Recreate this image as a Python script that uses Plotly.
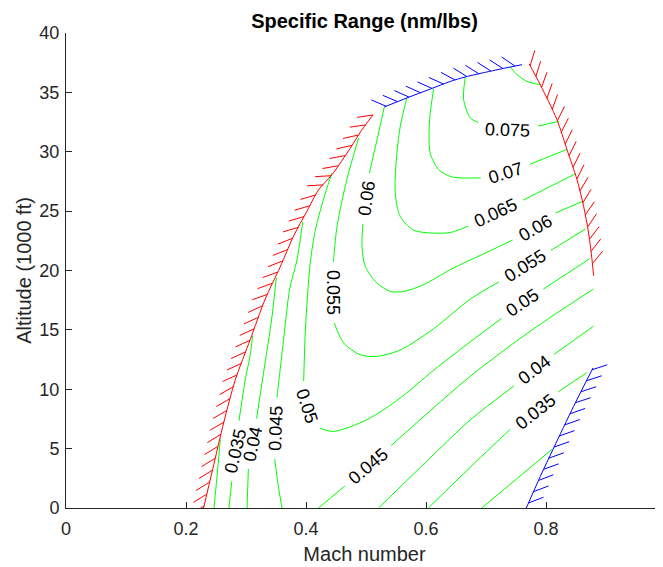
import math
import plotly.graph_objects as go

# ---------------- data (Mach number, altitude in 1000 ft) ----------------
# envelope boundaries
stall_mach = [0.2293, 0.2443, 0.2627, 0.2822, 0.3072, 0.332, 0.357, 0.3793, 0.4017, 0.421, 0.4433, 0.4738, 0.4925, 0.5117]
stall_alt = [0, 3.23, 7.16, 10.8, 14.2, 17.6, 20.3, 22.9, 25.0, 26.8, 28.07, 30.3, 31.8, 33.1]

ceiling_mach = [0.5305, 0.568, 0.6072, 0.6405, 0.6655, 0.7017, 0.7405, 0.76]
ceiling_alt = [33.77, 34.53, 35.28, 35.92, 36.3, 36.72, 37.14, 37.33]

buffet_mach = [0.772, 0.7905, 0.8183, 0.835, 0.8517, 0.8627, 0.871, 0.8767, 0.8793]
buffet_alt = [37.4, 35.64, 32.7, 30.17, 27.65, 25.4, 23.16, 20.9, 19.56]

mmo_mach = [0.8783, 0.846, 0.8127, 0.7905, 0.7672]
mmo_alt = [11.79, 8.56, 5.05, 2.66, 0]

# specific-range contour lines (each connected piece separately)
c030a_mach = [0.2467, 0.2527, 0.2572]
c030a_alt = [0, 3.2, 5.8]
c030b_mach = [0.693, 0.75, 0.81]
c030b_alt = [0, 2.4, 4.95]
c035a_mach = [0.2715, 0.2767, 0.2826, 0.2877, 0.2988, 0.307, 0.311]
c035a_alt = [0, 2.4, 4.8, 7.16, 10.8, 12.9, 14.5]
c035b_mach = [0.604, 0.673, 0.74, 0.7822, 0.818, 0.868]
c035b_alt = [0, 3.4, 6.6, 8.1, 9.7, 11.4]
c040a_mach = [0.3017, 0.304, 0.3112, 0.316, 0.329, 0.343, 0.3505]
c040a_alt = [0, 3.3, 5.4, 7.0, 11.3, 16.0, 19.4]
c040b_mach = [0.521, 0.6127, 0.674, 0.7802, 0.8127, 0.879]
c040b_alt = [0, 4.5, 7.43, 11.6, 12.9, 15.3]
c045a_mach = [0.36, 0.354, 0.348, 0.3505, 0.3517, 0.3627, 0.373, 0.385, 0.3945]
c045a_alt = [0, 1.8, 4.1, 6.7, 9.3, 14.2, 18.5, 20.9, 24.1]
c045b_mach = [0.421, 0.4705, 0.5043, 0.5405, 0.674, 0.774, 0.879]
c045b_alt = [0, 2.1, 3.5, 5.2, 11.1, 14.9, 18.44]
c050_mach = [0.443, 0.428, 0.4155, 0.407, 0.399, 0.396, 0.4012, 0.421, 0.446, 0.5017, 0.557, 0.6127, 0.674, 0.76, 0.873]
c050_alt = [28.2, 25.8, 23.4, 20.6, 15.0, 10.5, 8.56, 6.74, 6.45, 7.44, 9.26, 11.6, 14.0, 17.25, 21.0]
c055_mach = [0.4877, 0.468, 0.4517, 0.446, 0.444, 0.446, 0.4627, 0.4905, 0.518, 0.557, 0.6127, 0.674, 0.765, 0.866]
c055_alt = [31.16, 27.65, 23.7, 20.9, 18.15, 15.7, 13.9, 12.9, 12.77, 13.3, 15.1, 17.6, 20.35, 23.5]
c060_mach = [0.5305, 0.517, 0.507, 0.5003, 0.495, 0.4933, 0.4988, 0.518, 0.5405, 0.5627, 0.596, 0.6405, 0.70, 0.746, 0.7822, 0.8155, 0.86]
c060_alt = [33.77, 30.7, 28.5, 26.06, 24.0, 22.0, 20.35, 18.95, 18.24, 18.24, 18.8, 20.07, 21.5, 22.6, 23.56, 24.84, 25.8]
c065_mach = [0.568, 0.557, 0.5505, 0.5488, 0.557, 0.5793, 0.6072, 0.6405, 0.677, 0.7155, 0.7572, 0.80, 0.8495]
c065_alt = [34.53, 32.1, 29.3, 26.5, 24.55, 23.4, 23.16, 23.2, 23.86, 24.85, 25.8, 26.9, 28.15]
c070_mach = [0.6127, 0.606, 0.607, 0.621, 0.6405, 0.657, 0.696, 0.7328, 0.771, 0.835]
c070_alt = [35.28, 32.7, 29.9, 28.5, 27.92, 27.8, 27.8, 28.25, 28.9, 30.2]
c075_mach = [0.6655, 0.6627, 0.6738, 0.696, 0.7365, 0.782, 0.821]
c075_alt = [36.3, 34.4, 32.84, 32.2, 31.84, 32.1, 32.56]
c080_mach = [0.7405, 0.7517, 0.7683, 0.7905]
c080_alt = [37.14, 36.49, 35.93, 35.64]

# contour labels: contour piece, text, Mach, altitude, text angle
label_contour = ["c035a", "c040a", "c045a", "c050", "c055", "c060", "c045b", "c035b",
                 "c040b", "c050", "c055", "c060", "c065", "c070", "c075"]
label_text = ["0.035", "0.04", "0.045", "0.05", "0.055", "0.06", "0.045", "0.035",
              "0.04", "0.05", "0.055", "0.06", "0.065", "0.07", "0.075"]
label_mach = [0.2826, 0.3112, 0.3505, 0.4012, 0.444, 0.5003, 0.5043, 0.7822,
              0.7802, 0.76, 0.765, 0.7822, 0.7155, 0.7328, 0.7365]
label_alt = [4.8, 5.4, 6.7, 8.56, 18.15, 26.06, 3.5, 8.1,
             11.6, 17.25, 20.35, 23.56, 24.85, 28.25, 31.84]
label_angle = [-77, -78, -88, 72, 90, -82, -40, -38, -37, -34, -32, -30, -25, -17, 2]

x_ticks = [0, 0.2, 0.4, 0.6, 0.8]
x_edge_tick = 1
y_ticks = [0, 5, 10, 15, 20, 25, 30, 35, 40]

contours = {
    "c030a": (c030a_mach, c030a_alt), "c030b": (c030b_mach, c030b_alt),
    "c035a": (c035a_mach, c035a_alt), "c035b": (c035b_mach, c035b_alt),
    "c040a": (c040a_mach, c040a_alt), "c040b": (c040b_mach, c040b_alt),
    "c045a": (c045a_mach, c045a_alt), "c045b": (c045b_mach, c045b_alt),
    "c050": (c050_mach, c050_alt), "c055": (c055_mach, c055_alt),
    "c060": (c060_mach, c060_alt), "c065": (c065_mach, c065_alt),
    "c070": (c070_mach, c070_alt), "c075": (c075_mach, c075_alt),
    "c080": (c080_mach, c080_alt),
}

# ---------------- geometry ----------------
# the page body adds an 8 px margin, so the figure is drawn 8 px smaller
PAGE_OFF = 8
W, H = 663 - PAGE_OFF, 567 - PAGE_OFF
ML, MR, MT, MB = 66 - PAGE_OFF, 0, 33 - PAGE_OFF, 59
XR = [0, 0.995]
YR = [0, 40]
SX = (W - ML - MR) / (XR[1] - XR[0])
SY = (H - MT - MB) / (YR[1] - YR[0])
FONT = "Liberation Sans, Arial, sans-serif"
LABEL_SIZE = 18
AX_COL = "#262626"


def text_width(t, size):
    w = 0
    for ch in t:
        w += 0.278 if ch == "." else 0.556
    return w * size


def cut_at_labels(mach, alt, circles):
    """Remove the parts of a polyline that lie under its labels (pixel circles)."""
    pts = [(m * SX, a * SY) for m, a in zip(mach, alt)]
    cs = [(cm * SX, ca * SY, r) for cm, ca, r in circles]
    xs, ys = [], []
    cur = []

    def flush():
        nonlocal cur
        if len(cur) >= 2:
            xs.extend([p[0] / SX for p in cur] + [None])
            ys.extend([p[1] / SY for p in cur] + [None])
        cur = []

    for (ax, ay), (bx, by) in zip(pts[:-1], pts[1:]):
        dx, dy = bx - ax, by - ay
        qa = dx * dx + dy * dy
        ints = []
        for cx, cy, r in cs:
            fx, fy = ax - cx, ay - cy
            qb = 2 * (fx * dx + fy * dy)
            qc = fx * fx + fy * fy - r * r
            disc = qb * qb - 4 * qa * qc
            if qa == 0 or disc <= 0:
                continue
            s = math.sqrt(disc)
            lo = max((-qb - s) / (2 * qa), 0.0)
            hi = min((-qb + s) / (2 * qa), 1.0)
            if lo < hi:
                ints.append((lo, hi))
        ints.sort()
        merged = []
        for lo, hi in ints:
            if merged and lo <= merged[-1][1]:
                merged[-1] = (merged[-1][0], max(merged[-1][1], hi))
            else:
                merged.append((lo, hi))
        pieces = []
        t = 0.0
        for lo, hi in merged:
            if lo > t:
                pieces.append((t, lo))
            t = max(t, hi)
        if t < 1.0:
            pieces.append((t, 1.0))
        for t0, t1 in pieces:
            p0 = (ax + dx * t0, ay + dy * t0)
            p1 = (ax + dx * t1, ay + dy * t1)
            if t0 == 0.0 and cur:
                cur.append(p1)
            else:
                flush()
                cur = [p0, p1]
        if not pieces or pieces[-1][1] < 1.0:
            flush()
    flush()
    return xs, ys


def hatch_strokes(mach, alt, spacing=12.3, length=16, rot=135):
    """Short hatch strokes rotated from the boundary direction."""
    pts = [(m * SX, a * SY) for m, a in zip(mach, alt)]
    xs, ys = [], []
    seglen = [math.dist(p, q) for p, q in zip(pts[:-1], pts[1:])]
    total = sum(seglen)
    s = 2.0
    while s <= total:
        acc = 0.0
        for i, L in enumerate(seglen):
            if acc + L >= s:
                t = (s - acc) / L
                (ax, ay), (bx, by) = pts[i], pts[i + 1]
                px, py = ax + (bx - ax) * t, ay + (by - ay) * t
                ang = math.atan2(by - ay, bx - ax) + math.radians(rot)
                ex, ey = px + length * math.cos(ang), py + length * math.sin(ang)
                xs += [px / SX, ex / SX, None]
                ys += [py / SY, ey / SY, None]
                break
            acc += L
        s += spacing
    return xs, ys


fig = go.Figure()

# contour lines
for key, (m, a) in contours.items():
    circles = []
    for k, t, lm, la in zip(label_contour, label_text, label_mach, label_alt):
        if k == key:
            circles.append((lm, la, text_width(t, LABEL_SIZE) / 2 + 8))
    xs, ys = cut_at_labels(m, a, circles)
    fig.add_trace(go.Scatter(x=xs, y=ys, mode="lines",
                             line=dict(color="#00ff00", width=1, shape="spline", smoothing=0.8),
                             hoverinfo="skip", showlegend=False))

# envelope boundaries with hatching
for (m, a), col in [((stall_mach, stall_alt), "#ff0000"),
                    ((ceiling_mach, ceiling_alt), "#0000ff"),
                    ((buffet_mach, buffet_alt), "#ff0000"),
                    ((mmo_mach, mmo_alt), "#0000ff")]:
    fig.add_trace(go.Scatter(x=m, y=a, mode="lines",
                             line=dict(color=col, width=1, shape="spline", smoothing=0.8),
                             hoverinfo="skip", showlegend=False))
    hx, hy = hatch_strokes(m, a)
    fig.add_trace(go.Scatter(x=hx, y=hy, mode="lines",
                             line=dict(color=col, width=1),
                             hoverinfo="skip", showlegend=False))

for t, lm, la, ang in zip(label_text, label_mach, label_alt, label_angle):
    fig.add_annotation(x=lm, y=la, text=t, textangle=ang, showarrow=False,
                       xanchor="center", yanchor="middle",
                       font=dict(family=FONT, size=LABEL_SIZE, color="#000000"))

# the "1" tick label that sits on the right edge of the window (beyond the axis range)
fig.add_annotation(x=(x_edge_tick - XR[0]) / (XR[1] - XR[0]), xref="paper", y=0, yref="paper",
                   text=f"{x_edge_tick:g}", showarrow=False, xanchor="center",
                   yanchor="middle", yshift=-19,
                   font=dict(family=FONT, size=18, color=AX_COL))

axis_common = dict(
    showgrid=False, zeroline=False, showline=True, linecolor=AX_COL, linewidth=1,
    ticks="inside", ticklen=6, tickwidth=1, tickcolor=AX_COL,
    tickfont=dict(family=FONT, size=18, color=AX_COL),
    mirror=False, automargin=False,
)

fig.update_layout(
    width=W, height=H, autosize=False,
    margin=dict(l=ML, r=MR, t=MT, b=MB, autoexpand=False),
    paper_bgcolor="white", plot_bgcolor="white",
    showlegend=False,
    title=dict(text="<b>Specific Range (nm/lbs)</b>", x=0.5, xref="paper",
               xanchor="center", y=1 - (21 - PAGE_OFF) / H, yref="container", yanchor="middle",
               font=dict(family=FONT, size=20, color="#000000")),
    xaxis=dict(range=XR, tickvals=x_ticks, ticktext=[f"{v:g}" for v in x_ticks],
               title=dict(text="Mach number", font=dict(family=FONT, size=20, color=AX_COL),
                          standoff=9),
               ticklabelstandoff=4, **axis_common),
    yaxis=dict(range=YR, tickvals=y_ticks, ticktext=[f"{v:g}" for v in y_ticks],
               title=dict(text="Altitude (1000 ft)", font=dict(family=FONT, size=20, color=AX_COL),
                          standoff=2),
               ticklabelstandoff=2, **axis_common),
)

fig.write_html("out.html")
